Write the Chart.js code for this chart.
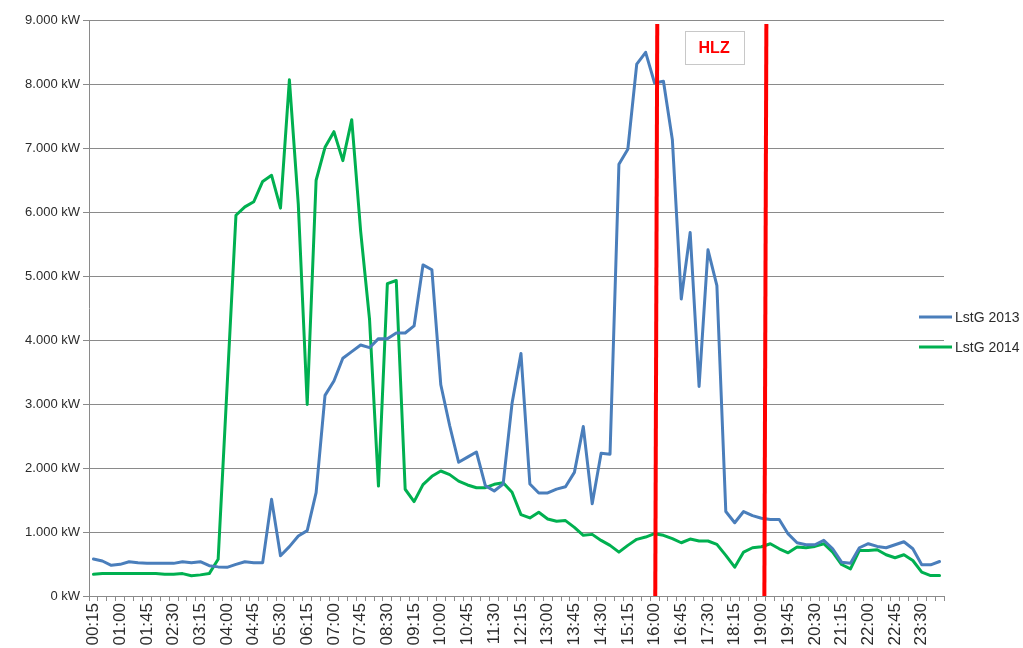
<!DOCTYPE html>
<html>
<head>
<meta charset="utf-8">
<script src="https://cdn.jsdelivr.net/npm/chart.js@4/dist/chart.umd.min.js"></script>
<style>
  html, body { margin: 0; padding: 0; background: #fff; }
  #wrap { width: 1023px; height: 648px; position: relative; }
</style>
</head>
<body>
<div id="wrap"><canvas id="lastgang"></canvas></div>
<script>
// Zeitachse: Viertelstunden 00:15 .. 24:00
const times = [];
for (let m = 15; m <= 1440; m += 15) {
  times.push(String(Math.floor(m / 60)).padStart(2, '0') + ':' + String(m % 60).padStart(2, '0'));
}

// Lastgang 2013 (kW)
const lstg2013 = [
  578, 547, 480, 495, 536, 521, 510, 510, 510, 510, 536, 521,
  536, 474, 455, 448, 495, 536, 521, 521, 1510, 630, 771, 938,
  1021, 1615, 3135, 3359, 3714, 3818, 3922, 3880, 4021, 4021, 4110, 4110,
  4220, 5173, 5097, 3300, 2660, 2090, 2170, 2250, 1725, 1640, 1750, 3010,
  3790, 1750, 1610, 1610, 1670, 1706, 1932, 2647, 1440, 2232, 2216, 6745,
  6980, 8310, 8495, 8015, 8042, 7130, 4640, 5680, 3275, 5409, 4850, 1320,
  1145, 1320, 1255, 1215, 1195, 1195, 970, 832, 801, 801, 869, 738,
  529, 513, 754, 817, 775, 754, 801, 848, 738, 487, 487, 539
];

// Lastgang 2014 (kW)
const lstg2014 = [
  339, 350, 350, 350, 350, 350, 350, 350, 340, 340, 350, 317,
  330, 350, 573, 3260, 5949, 6080, 6160, 6478, 6573, 6060, 8066, 6120,
  2992, 6496, 7010, 7255, 6802, 7443, 5700, 4320, 1717, 4880, 4930, 1668,
  1475, 1740, 1870, 1953, 1897, 1795, 1735, 1692, 1692, 1745, 1770, 1622,
  1272, 1220, 1309, 1204, 1168, 1178, 1073, 948, 963, 869, 791, 686,
  791, 885, 921, 974, 948, 895, 832, 890, 859, 859, 806, 634,
  450, 686, 754, 770, 817, 738, 675, 764, 754, 775, 817, 686,
  492, 424, 712, 712, 723, 644, 597, 644, 555, 372, 319, 319
];

// Hochlastzeitfenster (Beginn / Ende)
const hlzWindow = ['16:00', '19:00'];
const hlzLabel = 'HLZ';

const textColor = '#2b2b2b';
const gridColor = '#8a8a8a';

function fmtKW(v) {
  return v.toString().replace(/\B(?=(\d{3})+(?!\d))/g, '.') + ' kW';
}

// rote Linien + HLZ-Kasten
const hlzPlugin = {
  id: 'hlz',
  afterDatasetsDraw(chart) {
    const { ctx, chartArea, scales } = chart;
    const xs = hlzWindow.map((t, k) => scales.x.getPixelForValue(times.indexOf(t) + (k === 0 ? 0.17 : 0.42)));
    ctx.save();
    ctx.strokeStyle = '#ff0000';
    ctx.lineWidth = 4;
    xs.forEach(x => {
      ctx.beginPath();
      ctx.moveTo(x + 1.2, chartArea.top + 4);
      ctx.lineTo(x - 0.8, chartArea.bottom);
      ctx.stroke();
    });
    // Textkasten
    const cx = (xs[0] + xs[1]) / 2 + 3.5;
    const bw = 59, bh = 33, by = chartArea.top + 11;
    ctx.fillStyle = '#ffffff';
    ctx.fillRect(cx - bw / 2, by, bw, bh);
    ctx.strokeStyle = '#c8c8c8';
    ctx.lineWidth = 1;
    ctx.strokeRect(Math.round(cx - bw / 2) + 0.5, by + 0.5, bw, bh);
    ctx.fillStyle = '#ff0000';
    ctx.font = 'bold 16px "Liberation Sans", Arial, sans-serif';
    ctx.textAlign = 'center';
    ctx.textBaseline = 'middle';
    ctx.fillText(hlzLabel, cx, by + bh / 2 + 1);
    ctx.restore();
  }
};

// Legende rechts (wie Excel, ueberlappend)
const legendPlugin = {
  id: 'sideLegend',
  afterDraw(chart) {
    const { ctx } = chart;
    ctx.save();
    ctx.font = '14px "Liberation Sans", Arial, sans-serif';
    ctx.textBaseline = 'middle';
    ctx.textAlign = 'left';
    chart.data.datasets.forEach((ds, i) => {
      const y = 317 + i * 30;
      ctx.strokeStyle = ds.borderColor;
      ctx.lineWidth = 3;
      ctx.beginPath();
      ctx.moveTo(919, y);
      ctx.lineTo(952, y);
      ctx.stroke();
      ctx.fillStyle = textColor;
      ctx.fillText(ds.label, 955, y + 1);
    });
    ctx.restore();
  }
};

const ctx = document.getElementById('lastgang').getContext('2d');
new Chart(ctx, {
  type: 'line',
  data: {
    labels: times,
    datasets: [
      { label: 'LstG 2013', data: lstg2013, borderColor: '#4a7ebb', backgroundColor: '#4a7ebb' },
      { label: 'LstG 2014', data: lstg2014, borderColor: '#00b050', backgroundColor: '#00b050' }
    ]
  },
  options: {
    responsive: true,
    maintainAspectRatio: false,
    animation: false,
    layout: { padding: { top: 20, right: 79, bottom: 0, left: 0 } },
    elements: {
      line: { borderWidth: 3, tension: 0, borderJoinStyle: 'round', borderCapStyle: 'round' },
      point: { radius: 0, hoverRadius: 0 }
    },
    plugins: {
      legend: { display: false },
      tooltip: { enabled: false }
    },
    scales: {
      x: {
        offset: true,
        grid: { offset: true, drawOnChartArea: false, drawTicks: true, tickLength: 5, color: gridColor },
        border: { color: gridColor, width: 1 },
        ticks: {
          autoSkip: false,
          minRotation: 90,
          maxRotation: 90,
          padding: 2,
          color: textColor,
          font: { family: '"Liberation Sans", Arial, sans-serif', size: 17 },
          callback: function (v, i) { return i % 3 === 0 ? this.getLabelForValue(v) : ''; }
        },
        afterFit: s => { s.height = 52; }
      },
      y: {
        min: 0,
        max: 9000,
        grid: { color: gridColor, tickLength: 6, lineWidth: 1 },
        border: { color: gridColor, width: 1 },
        ticks: {
          stepSize: 1000,
          padding: 3,
          color: textColor,
          font: { family: '"Liberation Sans", Arial, sans-serif', size: 13 },
          callback: v => fmtKW(v)
        },
        afterFit: s => { s.width = 89; }
      }
    }
  },
  plugins: [hlzPlugin, legendPlugin]
});
</script>
</body>
</html>
